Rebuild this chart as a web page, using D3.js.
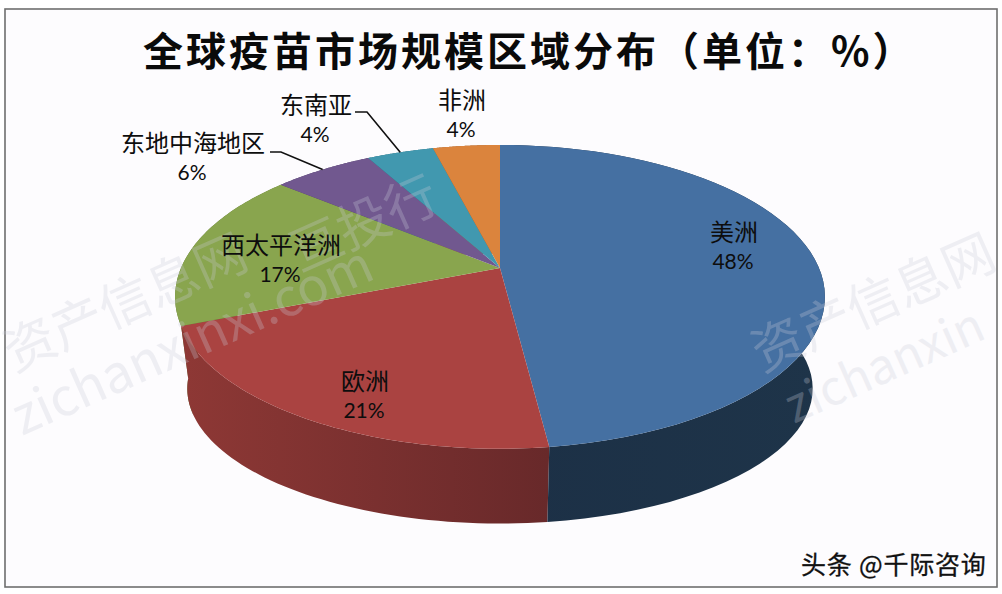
<!DOCTYPE html>
<html>
<head>
<meta charset="utf-8">
<script src="https://cdn.jsdelivr.net/npm/d3@7"></script>
<style>
  html, body { margin: 0; background: #fff; }
  svg { display: block; }
  text { font-family: "Noto Sans CJK SC", sans-serif; }
</style>
</head>
<body>
<svg id="chart"></svg>
<script>
const titleText = "全球疫苗市场规模区域分布（单位：%）";
const regions = ["美洲", "欧洲", "西太平洋洲", "东地中海地区", "东南亚", "非洲"];
const shares = [48, 21, 17, 6, 4, 4];

const topColors = ["#4570a2", "#aa4341", "#89a54e", "#71588f", "#4198af", "#db843d"];
const sideFrom = ["#1c3046", "#8e3835", "#5f7335", "#4e3d63", "#2d6a7a", "#98592a"];
const sideTo = ["#1e3449", "#68292a", "#5f7335", "#4e3d63", "#2d6a7a", "#98592a"];

const width = 1002;
const height = 594;

// label anchors (name line), same order as regions
const labelPos = [[734, 232], [365, 381], [281, 245], [193, 143], [316, 105], [462, 100]];
const leaderStart = [null, null, null, [270, 152], [355, 112], null];
const leaderElbow = [null, null, null, [281, 152], [367, 112], null];
// how far the wall's lower edge runs past the slice end, in radians
const wallOverrun = [0, 0.26, 0, 0, 0, 0];

const svg = d3.select("#chart").attr("width", width).attr("height", height);

svg.append("rect")
  .attr("x", 5).attr("y", 9)
  .attr("width", 992).attr("height", 578)
  .attr("fill", "#fdfcfe")
  .attr("stroke", "#6e6e6e")
  .attr("stroke-width", 1.6);

// perspective mapping of the pie disc on to the page
const tilt = -0.19;
const rimX = d3.scaleLinear().domain([-1, 1]).range([500 - 319, 500 + 319]);
const rimY = d3.scaleLinear().domain([-1, 1]).range([268 - 146.4, 268 + 146.4]);
const bottomX = d3.scaleLinear().domain([-1, 1]).range([500 - 307, 500 + 307]);
const bottomY = d3.scaleLinear().domain([-1, 1]).range([363 - 130, 363 + 130]);

function project(angle, r, sx, sy) {
  const u = r * Math.sin(angle);
  const v = -r * Math.cos(angle);
  const w = 1 + tilt * v;
  return [sx(u / w), sy(v / w)];
}
const topPoint = (a, r = 1) => project(a, r, rimX, rimY);
const bottomPoint = (a) => project(a, 1, bottomX, bottomY);

const arcs = d3.pie().sort(null)(shares);
const line = d3.line();
const sample = (d, extra = 0) => d3.range(0, 61).map((i) => d.startAngle + (d.endAngle + extra - d.startAngle) * i / 60);

// side wall
const defs = svg.append("defs");
arcs.forEach((d, i) => {
  const xs = sample(d).map((a) => topPoint(a)[0]);
  defs.append("linearGradient")
    .attr("id", `side-${i}`)
    .attr("gradientUnits", "userSpaceOnUse")
    .attr("x1", d3.min(xs)).attr("x2", d3.max(xs))
    .attr("y1", 0).attr("y2", 0)
    .call((g) => {
      g.append("stop").attr("offset", 0).attr("stop-color", sideFrom[i]);
      g.append("stop").attr("offset", 1).attr("stop-color", sideTo[i]);
    });
});

svg.append("g").selectAll("path")
  .data(arcs.map((d, i) => ({ d, i })).reverse())
  .join("path")
  .attr("d", ({ d, i }) => {
    const upper = sample(d).map((a) => topPoint(a));
    const lower = sample(d, wallOverrun[i]).reverse().map(bottomPoint);
    return line(upper.concat(lower)) + "Z";
  })
  .attr("fill", ({ i }) => `url(#side-${i})`);

// top face
svg.append("g").selectAll("path")
  .data(arcs)
  .join("path")
  .attr("d", (d) => line([topPoint(0, 0)].concat(sample(d).map((a) => topPoint(a)))) + "Z")
  .attr("fill", (d, i) => topColors[i]);

// watermark
const marks = [
  ["资产信息网", 14, 372, 52],
  ["zichanxinxi.com", 22, 436, 52],
  ["资产信息网", 762, 372, 52],
  ["zichanxin", 794, 424, 48],
  ["亘投行", 300, 272, 52]
];
svg.append("g").selectAll("text")
  .data(marks)
  .join("text")
  .attr("transform", (d) => `translate(${d[1]},${d[2]}) rotate(-24)`)
  .attr("font-size", (d) => d[3])
  .attr("font-weight", 400)
  .attr("fill", "#c9ccd8")
  .attr("opacity", 0.28)
  .text((d) => d[0]);

// leader lines
svg.append("g").selectAll("path")
  .data(arcs.filter((d, i) => leaderStart[i]))
  .join("path")
  .attr("d", (d) => line([leaderStart[d.index], leaderElbow[d.index], topPoint((d.startAngle + d.endAngle) / 2)]))
  .attr("fill", "none")
  .attr("stroke", "#111")
  .attr("stroke-width", 1.6);

// data labels
const labels = svg.append("g").attr("text-anchor", "middle").attr("fill", "#0d0d0d");
labels.selectAll("text.name")
  .data(regions)
  .join("text")
  .attr("class", "name")
  .attr("x", (d, i) => labelPos[i][0])
  .attr("y", (d, i) => labelPos[i][1])
  .attr("dy", "0.36em")
  .attr("font-size", 24)
  .text((d) => d);
labels.selectAll("text.value")
  .data(shares)
  .join("text")
  .attr("class", "value")
  .attr("x", (d, i) => labelPos[i][0] - 1)
  .attr("y", (d, i) => labelPos[i][1] + 29)
  .attr("dy", "0.36em")
  .attr("font-size", 21)
  .style("font-family", "Lato, sans-serif")
  .text((d) => `${d}%`);

svg.append("text")
  .attr("x", 143).attr("y", 66)
  .attr("font-size", 40)
  .attr("font-weight", 700)
  .attr("letter-spacing", 3)
  .attr("fill", "#0a0a0a")
  .text(titleText);

svg.append("text")
  .attr("x", 801).attr("y", 574)
  .attr("font-size", 25)
  .attr("letter-spacing", 0.8)
  .attr("fill", "#111")
  .attr("stroke", "#111")
  .attr("stroke-width", 0.3)
  .text("头条 @千际咨询");
</script>
</body>
</html>
